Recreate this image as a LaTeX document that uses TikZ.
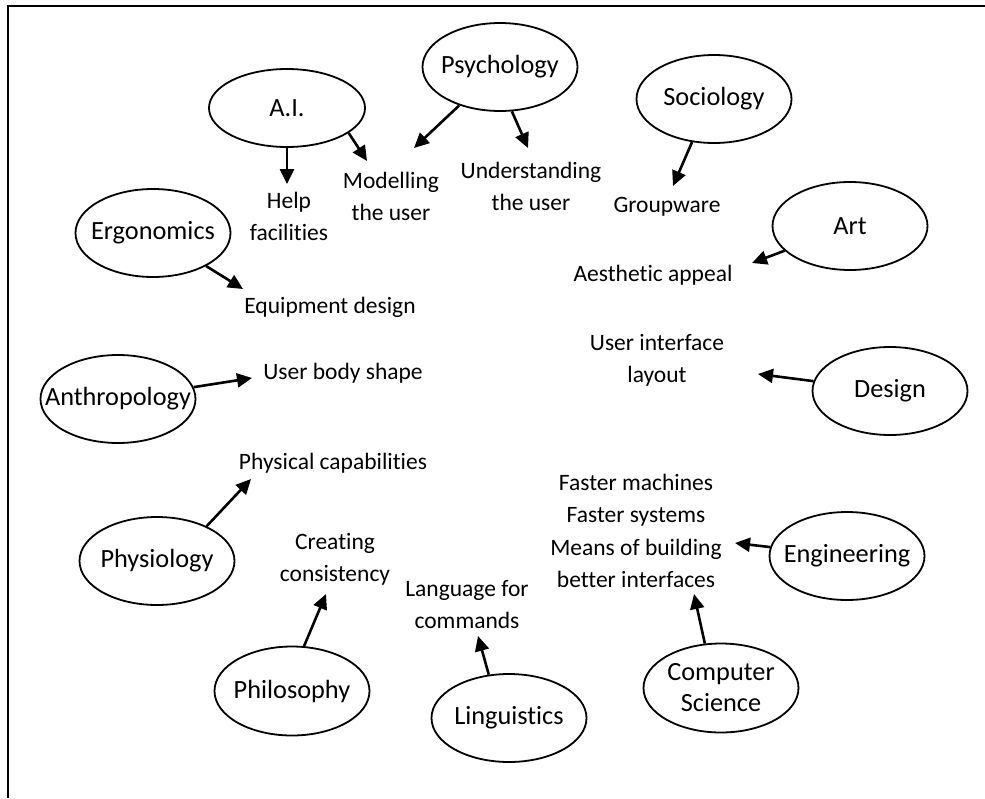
\documentclass[tikz,border=0pt]{standalone}
\usepackage{fontspec}
\setmainfont{Carlito}[RawFeature=-liga]
\usetikzlibrary{shapes.geometric,arrows.meta}
\begin{document}
\begin{tikzpicture}[x=1pt,y=-1pt,
  ell/.style={draw,ellipse,line width=1.8pt,inner sep=0pt,minimum width=155pt,minimum height=88pt},
  txt/.style={align=center,inner sep=0pt,font=\fontsize{23.5}{32}\selectfont},
  conn/.style={line width=2.6pt,-{Triangle[length=15pt,width=14pt]}},
  every label/.style={align=center,inner sep=0pt,font=\fontsize{26.3}{31}\selectfont}]
\useasboundingbox (0,0) rectangle (985,798);
\draw[line width=2.6pt] (8,798) -- (8,6) -- (985,6);
% disciplines
\node[ell,label=center:Psychology] (psy) at (500,67) {};
\node[ell,minimum width=156pt,minimum height=78pt,label=center:A.I.] (ai) at (287,108) {};
\node[ell,label=center:Sociology] (soc) at (714,99) {};
\node[ell,label=center:Ergonomics] (erg) at (153,233) {};
\node[ell,label=center:Art] (art) at (850,226) {};
\node[ell,label=center:Design] (des) at (890,391) {};
\node[ell,label=center:Anthropology] (anth) at (118,399) {};
\node[ell,label=center:Engineering] (eng) at (847,556) {};
\node[ell,label=center:Physiology] (phys) at (157,561) {};
\node[ell,minimum height=89pt,label=center:Philosophy] (phil) at (292,691) {};
\node[ell,label=center:Linguistics] (ling) at (509,718) {};
\node[ell,minimum height=89pt,label={center:Computer\\Science}] (cs) at (721,688) {};
% topics
\node[txt] (help) at (289,216) {Help\\facilities};
\node[txt] (model) at (391,196) {Modelling\\the user};
\node[txt] (under) at (531,186) {Understanding\\the user};
\node[txt] (group) at (667,207) {Groupware};
\node[txt] (aest) at (653,275) {Aesthetic appeal};
\node[txt] (equip) at (330,307) {Equipment design};
\node[txt] (uil) at (657,360) {User interface\\layout};
\node[txt] (body) at (343,373) {User body shape};
\node[txt] (physcap) at (333,463) {Physical capabilities};
\node[txt,font=\fontsize{23.5}{32.5}\selectfont] (fast) at (636,531) {Faster machines\\Faster systems\\Means of building\\better interfaces};
\node[txt] (cons) at (335,559) {Creating\\consistency};
\node[txt] (lang) at (467,605) {Language for\\commands};
% arrow tips
\coordinate (t1) at (287,184);
\coordinate (t2) at (367,161);
\coordinate (t3) at (414,148);
\coordinate (t4) at (528,148);
\coordinate (t5) at (673,186);
\coordinate (t6) at (752,263);
\coordinate (t7) at (243,289);
\coordinate (t8) at (252,378);
\coordinate (t9) at (758,374);
\coordinate (t10) at (251,479);
\coordinate (t11) at (735,543);
\coordinate (t12) at (326,594);
\coordinate (t13) at (478,636);
\coordinate (t14) at (694,594);
% connectors
\draw[conn] (ai.south) -- (t1);
\draw[conn] (ai.-22) -- (t2);
\draw[conn] (psy) -- (t3);
\draw[conn] (psy.-75) -- (t4);
\draw[conn] (soc.-117) -- (t5);
\draw[conn] (art) -- (t6);
\draw[conn] (erg) -- (t7);
\draw[conn] (anth) -- (t8);
\draw[conn] (des) -- (t9);
\draw[conn] (phys.35) -- (t10);
\draw[conn] (eng) -- (t11);
\draw[conn] (phil.75) -- (t12);
\draw[conn] (ling.115) -- (t13);
\draw[conn] (cs.110) -- (t14);
\end{tikzpicture}
\end{document}
